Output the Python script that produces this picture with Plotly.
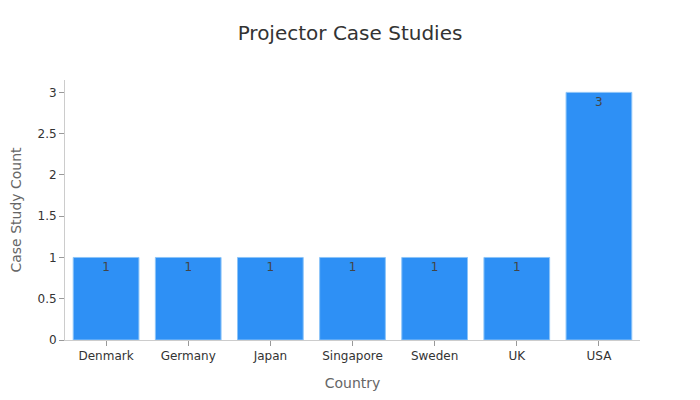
import plotly.graph_objects as go

countries = ["Denmark", "Germany", "Japan", "Singapore", "Sweden", "UK", "USA"]
counts = [1, 1, 1, 1, 1, 1, 3]

fig = go.Figure(go.Bar(
    x=countries, y=counts, text=counts, textposition="inside",
    insidetextanchor="end",
    textfont=dict(color="#444", size=12),
    marker=dict(color="#2E90F5", line=dict(color="#8CC4F8", width=1)),
))
fig.update_layout(
    width=700, height=400,
    font=dict(family="DejaVu Sans", color="#333"),
    title=dict(text="Projector Case Studies", x=0.4886, xanchor="center", y=0.955,
               font=dict(size=20, color="#333")),
    plot_bgcolor="white", paper_bgcolor="white",
    margin=dict(l=57, r=68, t=72, b=68),
    bargap=0.2, showlegend=False,
)
fig.update_xaxes(title=dict(text="Country", font=dict(size=14, color="#666")),
                 showline=True, linecolor="#ccc", ticks="outside", tickcolor="#999",
                 ticklen=5, tickfont=dict(size=12, color="#333"), showgrid=False,
                 automargin=False)
fig.update_yaxes(title=dict(text="Case Study Count", font=dict(size=14, color="#666"),
                            standoff=18),
                 range=[0, 3.15], dtick=0.5, showline=True, linecolor="#ccc",
                 ticks="outside", tickcolor="#999", ticklen=5,
                 tickfont=dict(size=12, color="#333"), showgrid=False, zeroline=False,
                 automargin=False)
fig.write_html("out.html")
